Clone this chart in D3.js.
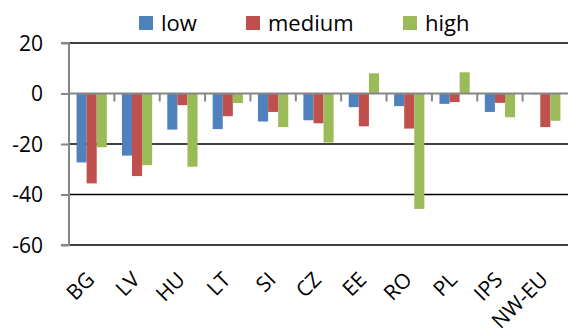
<!DOCTYPE html>
<html>
<head>
<meta charset="utf-8">
<script src="https://cdn.jsdelivr.net/npm/d3@7"></script>
<style>
  html, body { margin: 0; padding: 0; background: #fff; }
  svg { display: block; font-family: "Open Sans", sans-serif; }
</style>
</head>
<body>
<svg id="chart" width="568" height="333"></svg>
<script>
const categories = ["BG", "LV", "HU", "LT", "SI", "CZ", "EE", "RO", "PL", "IPS", "NW-EU"];
const seriesNames = ["low", "medium", "high"];
const lowValues    = [-27.3, -24.6, -14.3, -14.1, -11.1, -10.6, -5.4, -5.0, -4.1, -7.3, -0.3];
const mediumValues = [-35.6, -32.7, -4.6, -9.0, -7.3, -11.8, -13.0, -13.9, -3.4, -3.7, -13.3];
const highValues   = [-21.3, -28.4, -29.0, -3.8, -13.3, -19.4, 8.0, -45.7, 8.4, -9.4, -10.8];
const yTicks = [20, 0, -20, -40, -60];
const colors = ["#4F81BD", "#C0504D", "#9BBB59"];

const seriesValues = [lowValues, mediumValues, highValues];
const svg = d3.select("#chart");

const pLeft = 69, pRight = 568, pTop = 43, pBottom = 245;
const x0 = d3.scaleBand().domain(categories).range([pLeft, pRight]).paddingInner(1/3).paddingOuter(1/6);
const x1 = d3.scaleBand().domain(seriesNames).range([0, x0.bandwidth()]);
const y = d3.scaleLinear().domain([-60, 20]).range([pBottom, pTop]);

// gridlines (non-zero)
svg.append("g").selectAll("line").data(yTicks.filter(d => d !== 0)).join("line")
  .attr("x1", pLeft).attr("x2", pRight)
  .attr("y1", d => y(d)).attr("y2", d => y(d))
  .attr("stroke", "#000").attr("stroke-width", 1.3);

// bars
const rows = categories.map((c, i) => ({ cat: c, vals: seriesNames.map((s, j) => ({ s, j, v: seriesValues[j][i] })) }));
svg.append("g").selectAll("g").data(rows).join("g")
  .attr("transform", d => `translate(${x0(d.cat)},0)`)
  .selectAll("rect").data(d => d.vals).join("rect")
  .attr("x", d => x1(d.s))
  .attr("width", x1.bandwidth())
  .attr("y", d => Math.min(y(d.v), y(0)))
  .attr("height", d => Math.abs(y(d.v) - y(0)))
  .attr("fill", d => colors[d.j]);

// y axis
const yAxis = svg.append("g").attr("transform", `translate(${pLeft},0)`)
  .call(d3.axisLeft(y).tickValues(yTicks).tickSize(8).tickPadding(18).tickFormat(d => String(d)));
yAxis.select(".domain").attr("stroke", "#868686").attr("stroke-width", 2).attr("d", `M-8,${pTop}H0V${pBottom}H-8`);
yAxis.selectAll(".tick line").attr("stroke", "#868686").attr("stroke-width", 2);
yAxis.selectAll(".tick text").attr("font-family", "Open Sans").attr("font-size", 21).attr("fill", "#000").attr("dy", "0.34em");

// category tick marks at boundaries
const step = x0.step();
const bounds = d3.range(1, categories.length).map(i => pLeft + i * step);
svg.append("g").selectAll("line").data(bounds).join("line")
  .attr("x1", d => d).attr("x2", d => d)
  .attr("y1", y(0)).attr("y2", y(0) + 8)
  .attr("stroke", "#868686").attr("stroke-width", 2);

// zero line
svg.append("line").attr("x1", pLeft).attr("x2", pRight).attr("y1", y(0)).attr("y2", y(0))
  .attr("stroke", "#868686").attr("stroke-width", 2.2);

// category labels
svg.append("g").selectAll("text").data(categories).join("text")
  .attr("transform", d => `translate(${x0(d) + x0.bandwidth() / 2 + 4},281) rotate(-45)`)
  .attr("text-anchor", "end")
  .attr("font-size", 21).attr("fill", "#000")
  .text(d => d);

// legend
const legendX = [139, 246, 403];
const leg = svg.append("g").selectAll("g").data(seriesNames).join("g")
  .attr("transform", (d, i) => `translate(${legendX[i]},16)`);
leg.append("rect").attr("width", 14).attr("height", 14).attr("fill", (d, i) => colors[i]);
leg.append("text").attr("x", 22).attr("y", 15).attr("font-size", 22).attr("fill", "#000").text(d => d);
</script>
</body>
</html>
